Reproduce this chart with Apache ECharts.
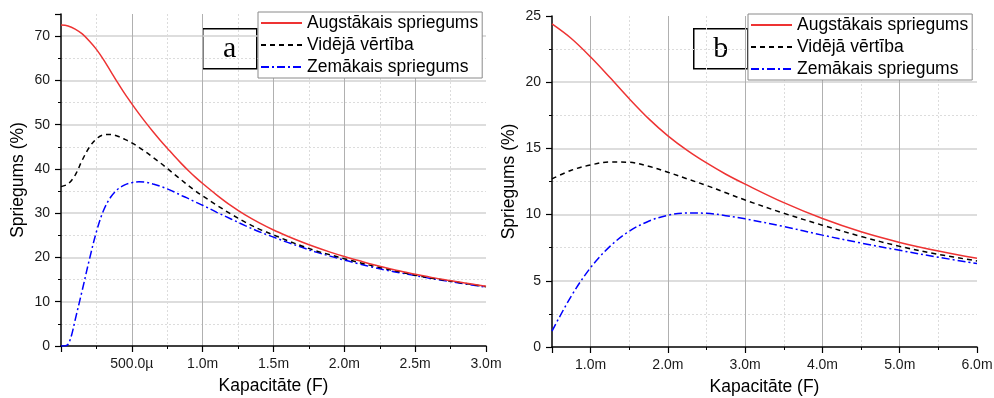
<!DOCTYPE html>
<html>
<head>
<meta charset="utf-8">
<script src="https://cdn.jsdelivr.net/npm/echarts@6/dist/echarts.min.js"></script>
<style>html,body{margin:0;padding:0;background:#fff}#c{width:994px;height:398px}</style>
</head>
<body>
<div id="c"></div>
<script>
// Series names
const seriesNames = ['Augstākais spriegums', 'Vidējā vērtība', 'Zemākais spriegums'];
const yTitle = 'Spriegums (%)';
const xTitle = 'Kapacitāte (F)';

// Chart a: capacitance in mF
const xA = [0, 0.05, 0.1, 0.15, 0.2, 0.25, 0.3, 0.35, 0.4, 0.45, 0.5, 0.55, 0.6, 0.65, 0.7, 0.75, 0.8, 0.85, 0.9, 0.95, 1.0,
            1.1, 1.2, 1.3, 1.4, 1.5, 1.6, 1.7, 1.8, 1.9, 2.0, 2.1, 2.2, 2.3, 2.4, 2.5, 2.6, 2.7, 2.8, 2.9, 3.0];
const highA = [72.5, 72.3, 71.6, 70.5, 68.9, 67.0, 64.7, 62.1, 59.5, 57.0, 54.7, 52.5, 50.4, 48.4, 46.5, 44.7, 42.9, 41.2, 39.6, 38.1, 36.7,
               34.1, 31.7, 29.6, 27.8, 26.2, 24.8, 23.5, 22.3, 21.2, 20.2, 19.3, 18.4, 17.6, 16.9, 16.2, 15.6, 15.0, 14.5, 14.0, 13.5];
const avgA  = [36.0, 36.6, 38.6, 42.0, 44.9, 46.8, 47.7, 47.8, 47.4, 46.7, 45.9, 44.9, 43.8, 42.6, 41.4, 40.1, 38.8, 37.5, 36.2, 35.0, 33.9,
               31.8, 29.8, 28.0, 26.4, 25.1, 23.8, 22.6, 21.5, 20.6, 19.7, 18.9, 18.1, 17.4, 16.7, 16.0, 15.4, 14.9, 14.4, 13.9, 13.4];
const lowA  = [0.0, 0.4, 5.9, 12.6, 19.5, 25.8, 30.6, 33.6, 35.4, 36.4, 36.9, 37.1, 37.0, 36.6, 36.1, 35.5, 34.8, 34.0, 33.3, 32.5, 31.8,
               30.2, 28.7, 27.2, 25.8, 24.6, 23.4, 22.3, 21.2, 20.3, 19.4, 18.6, 17.8, 17.1, 16.5, 15.9, 15.3, 14.8, 14.3, 13.8, 13.3];
// extra low-series readings near the start, where it leaves zero
const xAStartLow = [0.025, 0.075];
const lowAStart = [0.0, 2.5];

// Chart b: capacitance in mF
const xB = [0.5, 0.75, 1.0, 1.25, 1.5, 1.75, 2.0, 2.25, 2.5, 2.75, 3.0, 3.5, 4.0, 4.5, 5.0, 5.5, 6.0];
const highB = [24.4, 23.3, 21.9, 20.35, 18.75, 17.25, 15.95, 14.85, 13.9, 13.05, 12.3, 10.9, 9.7, 8.7, 7.9, 7.25, 6.7];
const avgB  = [12.7, 13.35, 13.75, 13.98, 13.95, 13.65, 13.2, 12.7, 12.2, 11.65, 11.1, 10.1, 9.2, 8.35, 7.6, 7.0, 6.5];
const lowB  = [1.2, 3.85, 6.0, 7.6, 8.75, 9.5, 9.95, 10.12, 10.1, 9.92, 9.68, 9.1, 8.45, 7.85, 7.3, 6.78, 6.3];

const FONT = 'Liberation Sans';
const pairs = (xs, ys) => xs.map((x, i) => [x, ys[i]]);
const lowAData = pairs(xA, lowA).concat(pairs(xAStartLow, lowAStart)).sort((a, b) => a[0] - b[0]);

const lineStyles = [
  {color: '#ee3333', width: 1.5, type: 'solid'},
  {color: '#000000', width: 1.5, type: [5, 4]},
  {color: '#0000ff', width: 1.5, type: [8, 3, 2, 3]}
];

function axisCommon(margin) {
  return {
    axisLine: {show: true, onZero: false, lineStyle: {color: '#000', width: 1.5}},
    axisTick: {show: true, inside: false, length: 6, lineStyle: {color: '#000', width: 1.2}},
    minorTick: {show: true, splitNumber: 2, length: 3, lineStyle: {color: '#000', width: 1}},
    axisLabel: {color: '#1a1a1a', fontSize: 14, fontFamily: FONT, margin: margin},
    nameTextStyle: {color: '#000', fontSize: 17.5, fontFamily: FONT},
    nameLocation: 'middle',
    minorSplitLine: {show: true, lineStyle: {color: '#dcdcdc', width: 1, type: [2, 2]}}
  };
}
function xAxisDef(gi, min, max, interval, fmt) {
  const a = axisCommon(11);
  return Object.assign(a, {
    type: 'value', gridIndex: gi, min: min, max: max,
    name: xTitle, nameGap: 31,
    axisLabel: Object.assign(a.axisLabel, {formatter: fmt, showMinLabel: false}),
    splitLine: {show: true, showMinLine: false, showMaxLine: false, lineStyle: {color: '#b0b0b0', width: 1}}
  }, interval ? {interval: interval} : {});
}
function yAxisDef(gi, min, max, interval, showMaxLabel) {
  const a = axisCommon(11);
  return Object.assign(a, {
    type: 'value', gridIndex: gi, min: min, max: max, interval: interval,
    name: yTitle, nameGap: 34,
    axisLabel: Object.assign(a.axisLabel, {showMaxLabel: showMaxLabel}),
    splitLine: {show: true, showMinLine: false, showMaxLine: false, lineStyle: {color: '#d2d2d2', width: 1.5}}
  });
}
function legendDef(left, top) {
  return {
    left: left, top: top, orient: 'vertical', selectedMode: false,
    itemWidth: 41, itemHeight: 20, itemGap: 2, padding: [1, 4, 1, 2],
    borderColor: '#8a8a8a', borderWidth: 1, backgroundColor: '#fff',
    itemStyle: {opacity: 0},
    textStyle: {fontSize: 17.5, color: '#000', fontFamily: FONT, lineHeight: 20},
    data: seriesNames
  };
}
function seriesDef(i, gi, data) {
  return {
    type: 'line', name: seriesNames[i], xAxisIndex: gi, yAxisIndex: gi,
    data: data, smooth: 0.35, symbol: 'none', showSymbol: false,
    lineStyle: lineStyles[i], itemStyle: {color: lineStyles[i].color},
    animation: false, z: 3 - i
  };
}
const fmtA = v => v === 0 ? '' : (v < 1 ? (v * 1000).toFixed(1) + 'µ' : v.toFixed(1) + 'm');
const fmtB = v => (Math.abs(v - Math.round(v)) < 1e-6 ? v.toFixed(1) + 'm' : '');

function labelBox(x, y, txt) {
  return {
    type: 'group', left: x, top: y, z: 100,
    children: [
      {type: 'rect', shape: {x: 0, y: 0, width: 54, height: 40}, style: {fill: '#fff', stroke: '#000', lineWidth: 1.5}},
      {type: 'text', x: 27, y: 20, style: {text: txt, fill: '#000', font: '30px "Liberation Serif"', align: 'center', verticalAlign: 'middle'}}
    ]
  };
}

const chart = echarts.init(document.getElementById('c'), null, {renderer: 'canvas'});
chart.setOption({
  animation: false,
  backgroundColor: '#fff',
  grid: [
    {left: 61, top: 14, width: 425, height: 332, containLabel: false, outerBoundsMode: 'none'},
    {left: 552, top: 16, width: 425, height: 331, containLabel: false, outerBoundsMode: 'none'}
  ],
  xAxis: [
    xAxisDef(0, 0, 3, 0.5, fmtA),
    xAxisDef(1, 0.5, 6, null, fmtB)
  ],
  yAxis: [
    yAxisDef(0, 0, 75, 10, false),
    yAxisDef(1, 0, 25, 5, true)
  ],
  legend: [legendDef(258, 12), legendDef(748, 14)],
  series: [
    seriesDef(0, 0, pairs(xA, highA)),
    seriesDef(1, 0, pairs(xA, avgA)),
    seriesDef(2, 0, lowAData),
    seriesDef(0, 1, pairs(xB, highB)),
    seriesDef(1, 1, pairs(xB, avgB)),
    seriesDef(2, 1, pairs(xB, lowB))
  ],
  graphic: [labelBox(202, 28, 'a'), labelBox(693, 28, 'b')]
});
</script>
</body>
</html>
